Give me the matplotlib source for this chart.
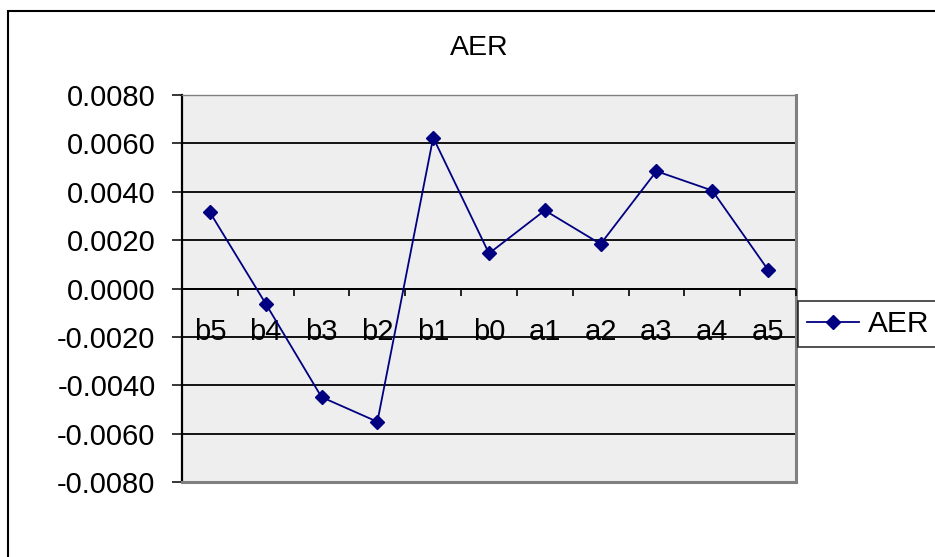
import numpy as np
import matplotlib
matplotlib.use("Agg")
import matplotlib.pyplot as plt
from matplotlib.patches import Rectangle
from matplotlib.ticker import FormatStrFormatter, MultipleLocator

plt.rcParams['font.family'] = ['Liberation Sans', 'DejaVu Sans']

# AER value per window
labels = ["b5", "b4", "b3", "b2", "b1", "b0", "a1", "a2", "a3", "a4", "a5"]
aer = [0.00315, -0.00063, -0.00449, -0.00551, 0.00624, 0.00145,
       0.00323, 0.00184, 0.00485, 0.00405, 0.00077]

W, H = 935, 557
fig = plt.figure(figsize=(W / 100, H / 100), dpi=100)

# outer chart border, runs off the right and bottom edges
fig.patches.append(Rectangle((8 / W, -0.1), 1.2, 1 - 11 / H + 0.1,
                             transform=fig.transFigure, fill=False,
                             edgecolor="black", lw=1.5, zorder=0))

ax = fig.add_axes([182 / W, 1 - 482 / H, (796 - 182) / W, (482 - 95) / H])
ax.set_facecolor("#eeeeee")

x = np.arange(len(labels))
line, = ax.plot(x, aer, color="#000080", lw=1.3, marker="D", ms=7.5,
                zorder=5, label="AER")

ax.set_xlim(-0.5, len(labels) - 0.5)
ax.set_ylim(-0.008, 0.008)
ax.yaxis.set_major_locator(MultipleLocator(0.002))
ax.yaxis.set_major_formatter(FormatStrFormatter("%.4f"))
ax.yaxis.grid(True, color="black", lw=1.3)
ax.set_axisbelow(True)

# frame: black left axis, gray plot-area border
ax.spines["left"].set_linewidth(1.6)
ax.spines["top"].set_color("#808080")
ax.spines["top"].set_linewidth(1.0)
ax.spines["right"].set_color("#808080")
ax.spines["right"].set_linewidth(2.2)
ax.spines["bottom"].set_color("#808080")
ax.spines["bottom"].set_linewidth(2.2)
ax.tick_params(axis="y", length=7, width=1.1, pad=12, labelsize=21)

# category axis crosses at zero, tick marks between categories
ax.set_xticks([])
ax.axhline(0, color="black", lw=1.4, zorder=3)
bounds = np.arange(len(labels) + 1) - 0.5
ax.vlines(bounds, -0.0003, 0, color="black", lw=1.2, zorder=3, clip_on=False)
for xi, lab in zip(x, labels):
    ax.text(xi, -0.0018, lab, ha="center", va="center", fontsize=21, zorder=4)

fig.text(479 / W, 1 - 48 / H, "AER", ha="center", va="center", fontsize=20.5)

leg = fig.legend(handles=[line], loc="center left",
                 bbox_to_anchor=(798 / W, 1 - 324 / H), frameon=True,
                 fancybox=False, edgecolor="black", fontsize=21.5,
                 handlelength=1.75, handletextpad=0.3, borderpad=0.3,
                 borderaxespad=0)
leg.get_frame().set_linewidth(1.2)

fig.savefig("out.png", dpi=100)
